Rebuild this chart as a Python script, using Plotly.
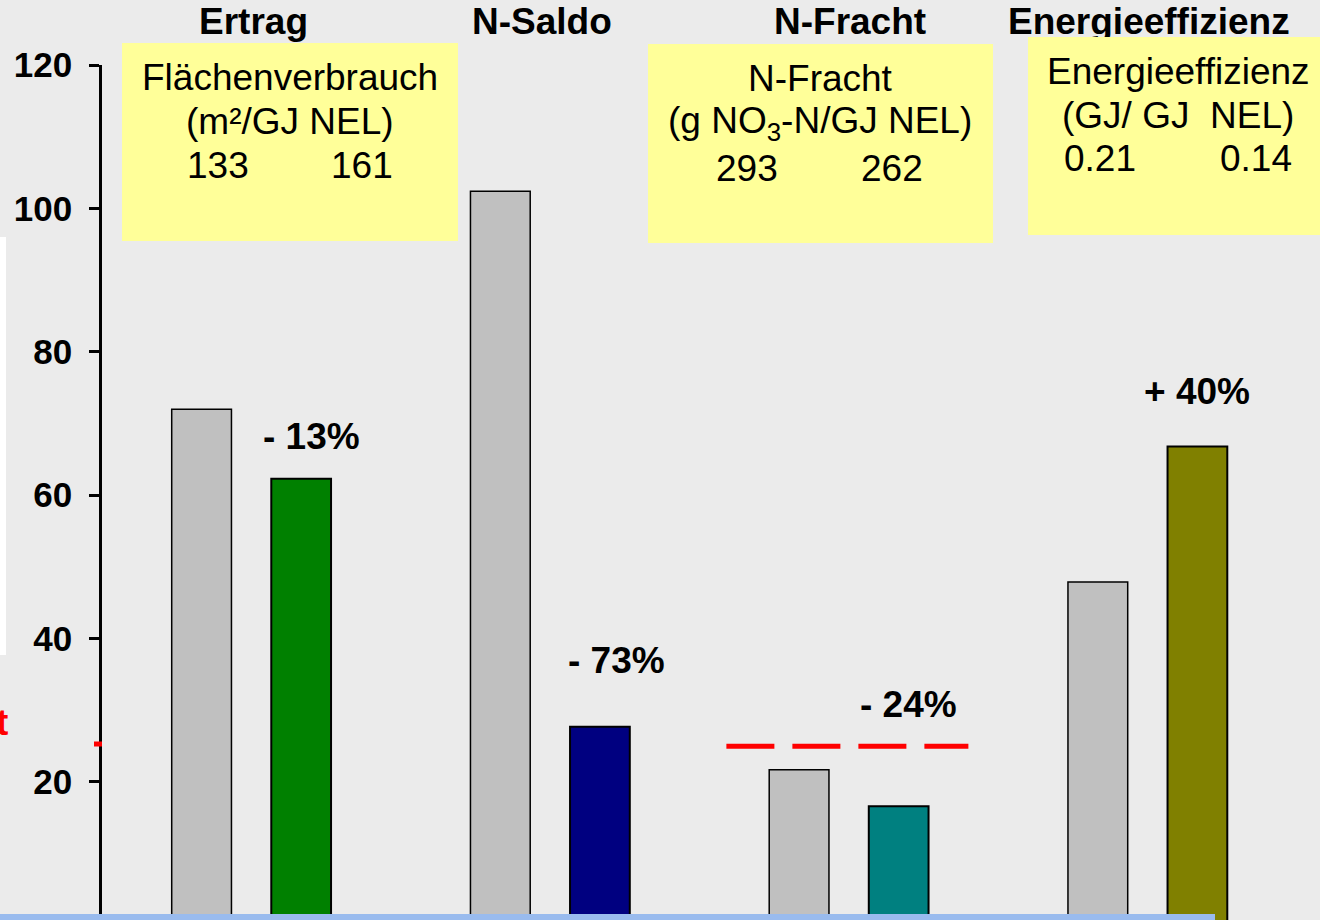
import plotly.graph_objects as go

# ---------------- data ----------------
groups = ["Ertrag", "N-Saldo", "N-Fracht", "Energieeffizienz"]
conventional = [72.0, 102.4, 21.7, 47.9]
organic = [62.3, 27.7, 16.6, 66.8]
organic_colors = ["#008000", "#000080", "#008080", "#808000"]
conv_color = "#C0C0C0"
change_labels = ["- 13%", "- 73%", "- 24%", "+ 40%"]
change_label_y = [68.2, 37.0, 30.8, 74.4]
threshold = 25
threshold_x = [1.59, 2.40]
ytick_vals = [20, 40, 60, 80, 100, 120]

box_titles = ["Flächenverbrauch", "N-Fracht", "Energieeffizienz"]
box_units = ["(m²/GJ NEL)", "(g NO<sub>3</sub>-N/GJ NEL)", "(GJ/ GJ  NEL)"]
box_values_conv = ["133", "293", "0.21"]
box_values_org = ["161", "262", "0.14"]

# ---------------- layout geometry (pixels) ----------------
W, H = 1320, 920
ML, MR, MT, MB = 102, 23, 65, 0
PW, PH = W - ML - MR, H - MT - MB
FONT = "Liberation Sans, Arial, sans-serif"
FS = 37


def px(x):
    return (x - ML) / PW


def py(y):
    return (H - MB - y) / PH


x_idx = list(range(len(groups)))
fig = go.Figure()
fig.add_trace(go.Bar(x=x_idx, y=conventional, marker=dict(color=conv_color, line=dict(color="black", width=1.5)),
                     showlegend=False, hoverinfo="skip"))
fig.add_trace(go.Bar(x=x_idx, y=organic, marker=dict(color=organic_colors, line=dict(color="black", width=2)),
                     showlegend=False, hoverinfo="skip"))
fig.add_trace(go.Scatter(x=threshold_x, y=[threshold, threshold], mode="lines",
                         line=dict(color="#FF0000", width=5, dash="48px,18px"),
                         showlegend=False, hoverinfo="skip"))

annotations = []
# group titles
title_px = [253, 542, 850, 1149]
for t, xp in zip(groups, title_px):
    annotations.append(dict(text=t, x=px(xp), y=py(22), xref="paper", yref="paper", showarrow=False,
                            xanchor="center", yanchor="middle",
                            font=dict(family=FONT, size=FS, color="black", weight="bold")))

# yellow boxes (annotation boxes so they can cover the title beneath)
boxes = [(122, 43, 458, 241), (648, 44, 993, 243), (1028, 37, 1320, 235)]
for (x0, y0, x1, y1) in boxes:
    annotations.append(dict(text=" ", x=px(x0), y=py(y0), xref="paper", yref="paper", showarrow=False,
                            xanchor="left", yanchor="top", width=x1 - x0, height=y1 - y0,
                            bgcolor="#FFFF99", borderpad=0, borderwidth=0, align="center",
                            font=dict(family=FONT, size=12)))

box_centers = [290, 820, 1178]
line_y = [(77, 122, 165), (79, 123, 168), (71, 115, 158)]
val_x = [(218, 362), (747, 892), (1100, 1256)]
for i in range(3):
    ly = line_y[i]
    for txt, yy in ((box_titles[i], ly[0]), (box_units[i], ly[1])):
        annotations.append(dict(text=txt, x=px(box_centers[i]), y=py(yy), xref="paper", yref="paper",
                                showarrow=False, xanchor="center", yanchor="middle",
                                font=dict(family=FONT, size=FS, color="black")))
    for txt, xx in ((box_values_conv[i], val_x[i][0]), (box_values_org[i], val_x[i][1])):
        annotations.append(dict(text=txt, x=px(xx), y=py(ly[2]), xref="paper", yref="paper",
                                showarrow=False, xanchor="center", yanchor="middle",
                                font=dict(family=FONT, size=FS, color="black")))

# change labels
label_shift = [10, 17, 10, 0]
for i, (lab, yy) in enumerate(zip(change_labels, change_label_y)):
    annotations.append(dict(text=lab, x=i + 1 / 6, y=yy, xref="x", yref="y", showarrow=False,
                            xanchor="center", yanchor="middle", xshift=label_shift[i],
                            font=dict(family=FONT, size=FS, color="black", weight="bold")))

# red "t" at left edge (end of a cut-off word in the reference)
annotations.append(dict(text="t", x=px(10), y=py(722), xref="paper", yref="paper", showarrow=False,
                        xanchor="right", yanchor="middle",
                        font=dict(family=FONT, size=FS, color="#FF0000", weight="bold")))

shapes = [
    # white panel at left edge
    dict(type="rect", xref="paper", yref="paper", x0=px(0), x1=px(6), y0=py(655), y1=py(237),
         fillcolor="white", line=dict(width=0), layer="above"),
    # red tick segment at the axis
    dict(type="line", xref="paper", yref="paper", x0=px(94), x1=px(102), y0=py(744), y1=py(744),
         line=dict(color="#FF0000", width=5), layer="above"),
    # blue strip at bottom
    dict(type="rect", xref="paper", yref="paper", x0=px(0), x1=px(1215), y0=py(920), y1=py(914),
         fillcolor="#99BBEE", line=dict(width=0), layer="above"),
]

fig.update_layout(
    width=W, height=H,
    margin=dict(l=ML, r=MR, t=MT, b=MB, pad=0),
    paper_bgcolor="#EBEBEB", plot_bgcolor="#EBEBEB",
    barmode="group", bargap=1 / 3, bargroupgap=0.4,
    annotations=annotations, shapes=shapes,
    xaxis=dict(range=[-0.5, 3.5], showticklabels=False, showgrid=False, zeroline=False,
               showline=False, ticks=""),
    yaxis=dict(range=[0.75, 120], tickvals=ytick_vals, showgrid=False, zeroline=False,
               showline=True, linecolor="black", linewidth=2.5,
               ticks="outside", ticklen=10, tickwidth=2.5, tickcolor="black",
               ticklabelstandoff=10,
               tickfont=dict(family=FONT, size=35, color="black", weight="bold")),
)

fig.write_html("out.html", config={"displayModeBar": False},
               post_script="document.body.style.margin='0';document.body.style.padding='0';"
                           "document.body.style.overflow='hidden';")
